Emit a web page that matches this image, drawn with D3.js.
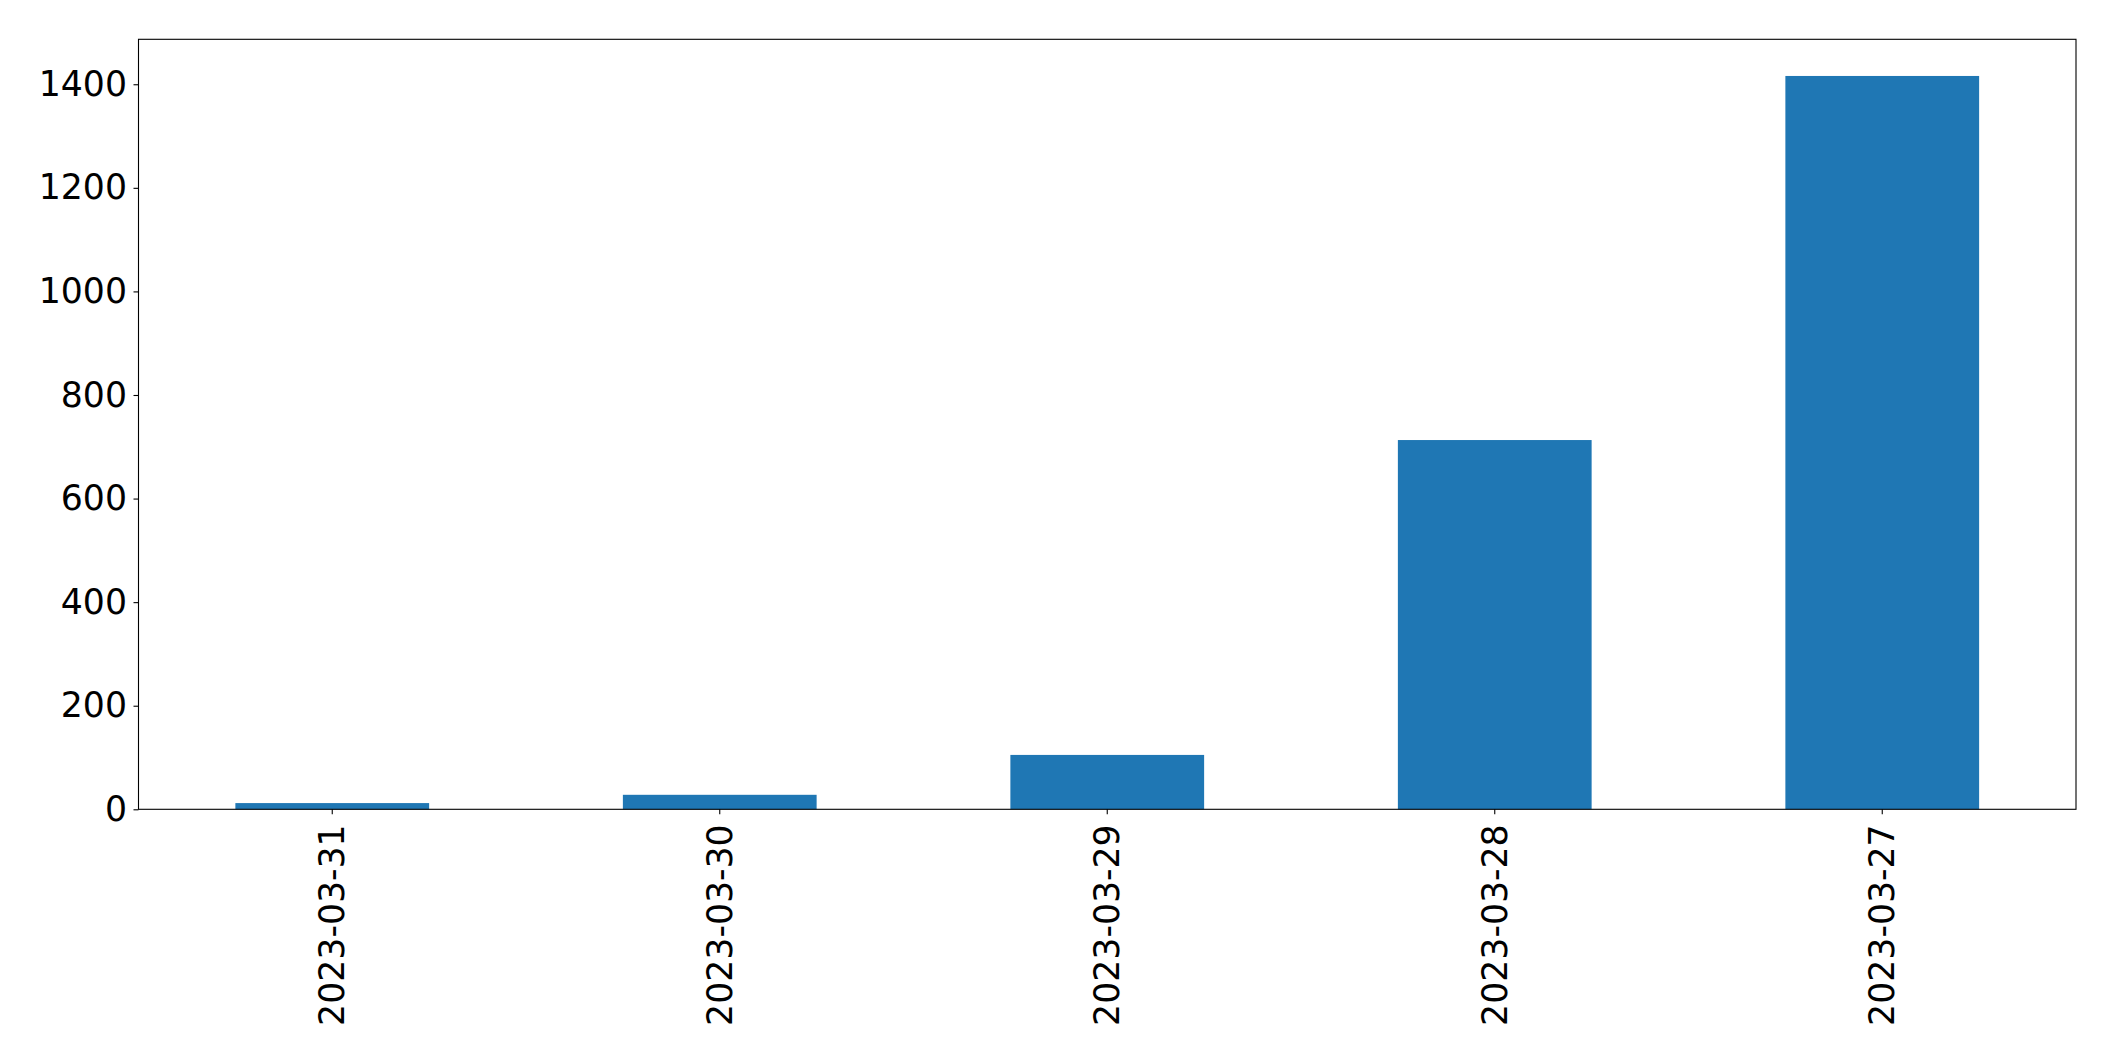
<!DOCTYPE html>
<html>
<head>
<meta charset="utf-8">
<script src="https://cdn.jsdelivr.net/npm/d3@7"></script>
<style>
  html, body { margin: 0; padding: 0; background: #fff; }
  svg { display: block; }
</style>
</head>
<body>
<svg id="chart" width="2115" height="1061"></svg>
<script>
const categories = ["2023-03-31", "2023-03-30", "2023-03-29", "2023-03-28", "2023-03-27"];
const values = [12, 28, 105, 713, 1416];
const yTicks = [0, 200, 400, 600, 800, 1000, 1200, 1400];

const W = 2115, H = 1061;
const margin = { left: 138.5, right: 2115 - 2076, top: 39.3, bottom: 1061 - 809.3 };
const svg = d3.select("#chart");
const pw = W - margin.left - margin.right;
const ph = H - margin.top - margin.bottom;
const g = svg.append("g").attr("transform", `translate(${margin.left},${margin.top})`);

const x = d3.scaleBand().domain(categories).range([0, pw]).paddingInner(0.5).paddingOuter(0.25);
const y = d3.scaleLinear().domain([0, d3.max(values) * 1.05]).range([ph, 0]);

g.selectAll("rect.bar").data(values).enter().append("rect")
  .attr("class", "bar")
  .attr("x", (d, i) => x(categories[i]))
  .attr("width", x.bandwidth())
  .attr("y", d => y(d))
  .attr("height", d => ph - y(d))
  .attr("fill", "#1f77b4");

const fontSize = "34.7px";
const font = "'DejaVu Sans', sans-serif";

const yAxis = g.append("g").call(d3.axisLeft(y).tickValues(yTicks).tickFormat(d3.format("d")).tickSize(5).tickPadding(6.5));
yAxis.select(".domain").remove();
yAxis.selectAll("text").attr("font-size", fontSize).attr("font-family", font).attr("fill", "#000");
yAxis.selectAll("line").attr("stroke", "#000").attr("stroke-width", 1.1);

const xAxis = g.append("g").attr("transform", `translate(0,${ph})`)
  .call(d3.axisBottom(x).tickSize(5).tickPadding(0));
xAxis.select(".domain").remove();
xAxis.selectAll("line").attr("stroke", "#000").attr("stroke-width", 1.1);
xAxis.selectAll("text")
  .attr("font-size", fontSize).attr("font-family", font).attr("fill", "#000")
  .attr("transform", "rotate(-90)")
  .attr("text-anchor", "end")
  .attr("x", -15)
  .attr("y", 0)
  .attr("dy", "0.35em");

g.append("rect").attr("x", 0).attr("y", 0).attr("width", pw).attr("height", ph)
  .attr("fill", "none").attr("stroke", "#000").attr("stroke-width", 1.1);
</script>
</body>
</html>
